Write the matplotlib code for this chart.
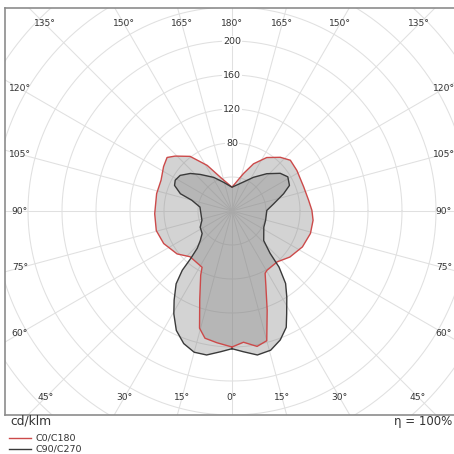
import numpy as np
import matplotlib
matplotlib.use("Agg")
import matplotlib.pyplot as plt

# ---- data (gamma in degrees, intensity in cd/klm) ----
c0_right_gamma = [0, 5, 10.5, 15, 19.5, 24.5, 28, 30.5, 41.5, 51.5, 63, 74, 83.5, 90.5, 98, 108.5, 122, 131, 138, 147, 155.5, 163, 180]
c0_right_cd    = [160, 155, 162, 158, 124, 96, 83, 81, 80, 87, 93, 96, 96, 94, 91, 89, 90, 91, 85, 75, 61, 46, 28]
c0_left_gamma  = [0, 6.5, 12, 15.5, 20, 26, 28, 42.5, 52, 64.5, 75.5, 88, 103, 113.5, 123, 129.5, 134, 142.5, 151.5, 161, 180]
c0_left_cd     = [160, 156, 153, 143, 111, 84, 75, 73, 82, 89, 92, 91, 91, 91, 96, 99, 93, 81, 61, 42, 28]

c90_right_gamma = [0, 4.5, 10, 15.5, 20.5, 25, 28, 32.5, 36.5, 40, 42, 47, 63, 74.5, 91, 100, 108.5, 114, 121.5, 128, 137, 147.5, 158, 180]
c90_right_cd    = [162, 166, 172, 170, 162, 151, 137, 120, 106, 86, 67, 51, 42, 41, 41, 50, 64, 74, 77, 72, 60, 47, 37, 28]
c90_left_gamma  = [0, 4.5, 10, 15, 20, 25, 29.5, 33, 37.5, 40, 41, 43, 47, 53, 63, 73, 97, 105, 108.5, 114, 118.5, 124.5, 132, 139, 151.5, 164, 180]
c90_left_cd     = [162, 166, 172, 172, 166, 155, 139, 125, 108, 91, 74, 60, 51, 44, 42, 37, 38, 49, 64, 74, 76, 74, 66, 57, 45, 35, 28]

ring_values = [80, 120, 160, 200]
series_names = ["C0/C180", "C90/C270"]
series_colors = ["#cc4a4a", "#3a3a3a"]
footer_left = "cd/klm"
footer_right = "η = 100%"

# ---- figure geometry ----
W = H = 454
fig = plt.figure(figsize=(W / 100, H / 100), dpi=100)
pxs = 0.85  # pixels per cd/klm
cx, cy = 232, 211
left_px, top_px, bottom_px, right_px = 5, 8, 415, 459
ax = fig.add_axes([left_px / W, 1 - bottom_px / H, (right_px - left_px) / W, (bottom_px - top_px) / H])
ax.set_xlim((left_px - cx) / pxs, (right_px - cx) / pxs)
ax.set_ylim((cy - bottom_px) / pxs, (cy - top_px) / pxs)
ax.set_aspect("auto")
ax.set_xticks([])
ax.set_yticks([])
for s in ax.spines.values():
    s.set_color("#8c8c8c")
    s.set_linewidth(1.2)

grid_c = "#e0e0e0"
# rings
t = np.linspace(0, 2 * np.pi, 721)
for r in range(40, 520, 40):
    ax.plot(r * np.cos(t), r * np.sin(t), color=grid_c, lw=0.75, zorder=1)
# rays every 15 degrees
for g in range(0, 360, 15):
    gr = np.radians(g)
    ax.plot([0, 600 * np.sin(gr)], [0, -600 * np.cos(gr)], color=grid_c, lw=0.75, zorder=1)


def curve_xy(rg, rc, lg, lc):
    rg, rc, lg, lc = map(np.asarray, (rg, rc, lg, lc))
    rr = np.radians(rg)
    lr = np.radians(lg[::-1])
    x = np.concatenate([rc * np.sin(rr), -lc[::-1] * np.sin(lr)])
    y = np.concatenate([-rc * np.cos(rr), -lc[::-1] * np.cos(lr)])
    return x, y


curves = [
    curve_xy(c0_right_gamma, c0_right_cd, c0_left_gamma, c0_left_cd),
    curve_xy(c90_right_gamma, c90_right_cd, c90_left_gamma, c90_left_cd),
]
for (x, y), col in zip(curves, series_colors):
    ax.fill(x, y, color="#808080", alpha=0.34, lw=0, zorder=2)
for (x, y), col in zip(curves, series_colors):
    ax.plot(np.append(x, x[0]), np.append(y, y[0]), color=col, lw=1.0, zorder=3)

# ring labels
for v in ring_values:
    ax.text(0, v, str(v), ha="center", va="center", fontsize=6.8, color="#333333",
            bbox=dict(boxstyle="square,pad=0.1", fc="white", ec="none"), zorder=4)

# angle labels along an inner box
bx = 212 / pxs
bt = 187 / pxs
bb = 186 / pxs
for g in range(0, 181, 15):
    for side in (1, -1):
        if g in (0, 180) and side == -1:
            continue
        gr = np.radians(g)
        dx = np.sin(gr) * side
        dy = -np.cos(gr)
        cands = []
        if abs(dx) > 1e-9:
            cands.append(bx / abs(dx))
        if dy < -1e-9:
            cands.append(bb / abs(dy))
        if dy > 1e-9:
            cands.append(bt / abs(dy))
        s = min(cands)
        ax.text(dx * s, dy * s, f"{g}°", ha="center", va="center", fontsize=6.6,
                color="#333333", zorder=4)

# footer
fig.text(10 / W, 1 - 421 / H, footer_left, ha="left", va="center", fontsize=8.8, color="#333333")
fig.text(452 / W, 1 - 421 / H, footer_right, ha="right", va="center", fontsize=8.5, color="#333333")
for i, (name, col) in enumerate(zip(series_names, series_colors)):
    yy = 1 - (438 + 11 * i) / H
    fig.add_artist(plt.Line2D([9 / W, 31 / W], [yy, yy], color=col, lw=1.0))
    fig.text(36 / W, yy, name, ha="left", va="center", fontsize=6.8, color="#333333")

fig.savefig("out.png", dpi=100)
